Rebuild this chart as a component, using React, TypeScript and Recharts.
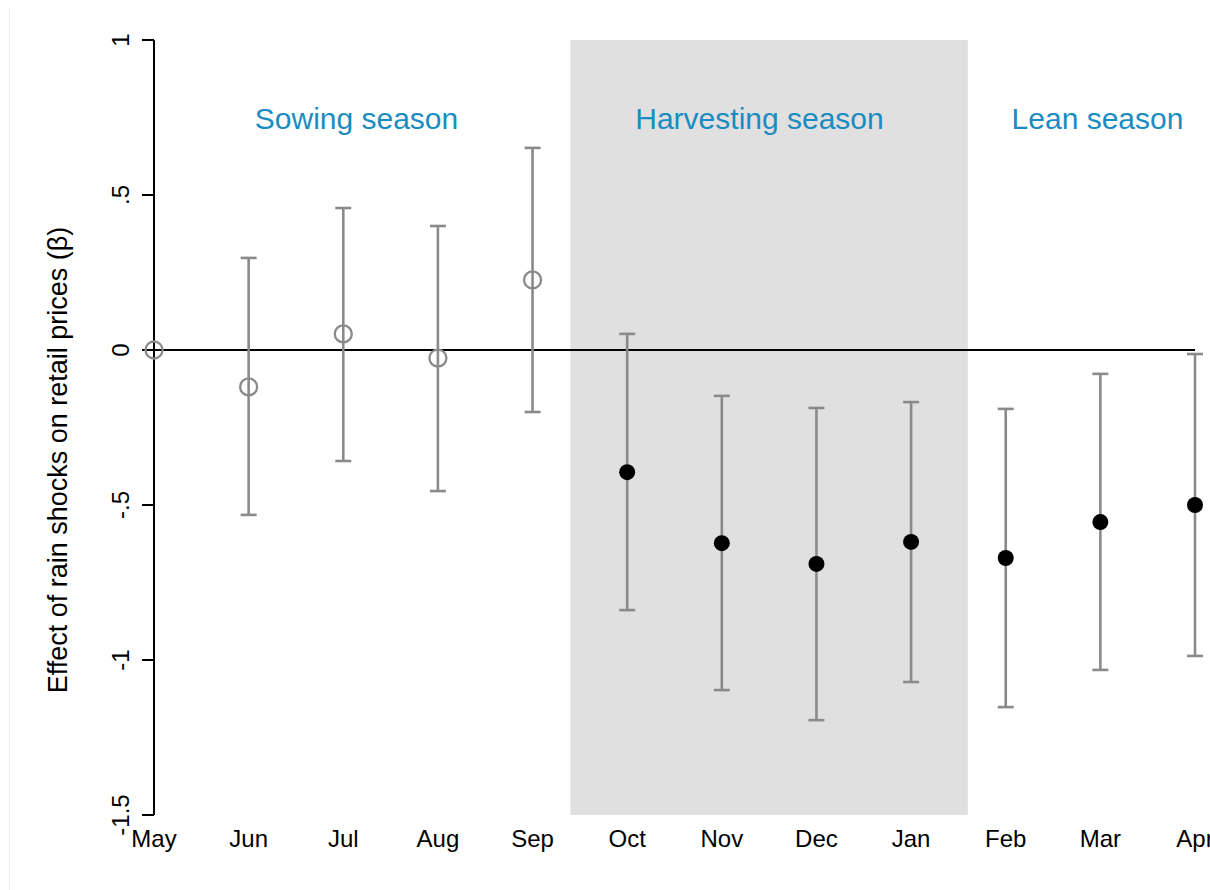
import React from 'react';
import {
  ComposedChart,
  Scatter,
  XAxis,
  YAxis,
  ReferenceArea,
  ReferenceLine,
  ErrorBar,
} from 'recharts';

const months = ['May', 'Jun', 'Jul', 'Aug', 'Sep', 'Oct', 'Nov', 'Dec', 'Jan', 'Feb', 'Mar', 'Apr'];
const estimates = [0, -0.119, 0.052, -0.026, 0.226, -0.394, -0.623, -0.69, -0.619, -0.671, -0.555, -0.5];
const ciLower = [0, -0.532, -0.358, -0.455, -0.2, -0.839, -1.097, -1.194, -1.071, -1.152, -1.032, -0.987];
const ciUpper = [0, 0.297, 0.458, 0.4, 0.652, 0.052, -0.148, -0.187, -0.168, -0.19, -0.077, -0.013];
const yTicks = [-1.5, -1, -0.5, 0, 0.5, 1];
const yTickLabels = ['-1.5', '-1', '-.5', '0', '.5', '1'];
const seasonNames = ['Sowing season', 'Harvesting season', 'Lean season'];
const harvestStart = 4.4;
const harvestEnd = 8.6;

const allPoints = months.map((m, i) => ({
  x: i,
  y: estimates[i],
  err: [estimates[i] - ciLower[i], ciUpper[i] - estimates[i]],
}));
const basePoint = allPoints.slice(0, 1);
const sowingPoints = allPoints.slice(1, 5);
const laterPoints = allPoints.slice(5);

const GRAY = '#8a8a8a';
const BLUE = '#1a8cc2';
const FONT = '"Liberation Sans", Arial, Helvetica, sans-serif';

const HollowDot = (props: any) => (
  <circle cx={props.cx} cy={props.cy} r={8.5} fill="none" stroke={GRAY} strokeWidth={2.3} />
);
const FilledDot = (props: any) => <circle cx={props.cx} cy={props.cy} r={8} fill="#000" />;

const YTick = (props: any) => {
  const { x, y, payload } = props;
  const idx = yTicks.indexOf(payload.value);
  return (
    <text
      transform={`translate(${x - 13},${y}) rotate(-90)`}
      textAnchor="middle"
      fontFamily={FONT}
      fontSize={24}
      fill="#000"
    >
      {idx >= 0 ? yTickLabels[idx] : payload.value}
    </text>
  );
};

const XTick = (props: any) => {
  const { x, y, payload } = props;
  return (
    <text x={x} y={y + 32} textAnchor="middle" fontFamily={FONT} fontSize={24} fill="#000">
      {months[payload.value]}
    </text>
  );
};

export default function App() {
  return (
    <div style={{ position: 'fixed', left: 0, top: 0, width: 1210, height: 890, background: '#fff', overflow: 'hidden' }}>
      <div style={{ position: 'absolute', left: 9, top: 8, width: 1, height: 882, background: '#edf1f4' }} />
      <div style={{ position: 'absolute', left: 0, top: 0 }}>
        <ComposedChart width={1210} height={890} margin={{ top: 40, right: 15, bottom: 45, left: 0 }}>
          <XAxis
            dataKey="x"
            type="number"
            domain={[0, 11]}
            ticks={months.map((_, i) => i)}
            interval={0}
            height={30}
            axisLine={false}
            tickLine={false}
            tickSize={0}
            tickMargin={0}
            tick={<XTick />}
          />
          <YAxis
            dataKey="y"
            type="number"
            domain={[-1.5, 1]}
            ticks={yTicks}
            width={154}
            axisLine={{ stroke: '#000', strokeWidth: 2 }}
            tickLine={{ stroke: '#000', strokeWidth: 2 }}
            tickSize={12}
            tickMargin={0}
            tick={<YTick />}
          />
          <ReferenceArea x1={harvestStart} x2={harvestEnd} y1={-1.5} y2={1} fill="#e0e0e0" fillOpacity={1} stroke="none" />
          <ReferenceLine y={0} stroke="#000" strokeWidth={2} />
          <Scatter data={sowingPoints} shape={<HollowDot />} isAnimationActive={false}>
            <ErrorBar dataKey="err" direction="y" width={8} stroke={GRAY} strokeWidth={2.6} isAnimationActive={false} />
          </Scatter>
          <Scatter data={laterPoints} shape={<FilledDot />} isAnimationActive={false}>
            <ErrorBar dataKey="err" direction="y" width={8} stroke={GRAY} strokeWidth={2.6} isAnimationActive={false} />
          </Scatter>
          <Scatter data={basePoint} shape={<HollowDot />} isAnimationActive={false} />
        </ComposedChart>
      </div>
      <svg
        width={1210}
        height={890}
        style={{ position: 'absolute', left: 0, top: 0, pointerEvents: 'none' }}
      >
        <text x={356.5} y={129} textAnchor="middle" fontFamily={FONT} fontSize={30} fill={BLUE}>
          {seasonNames[0]}
        </text>
        <text x={759.5} y={129} textAnchor="middle" fontFamily={FONT} fontSize={30} fill={BLUE}>
          {seasonNames[1]}
        </text>
        <text x={1097.5} y={129} textAnchor="middle" fontFamily={FONT} fontSize={30} fill={BLUE}>
          {seasonNames[2]}
        </text>
        <text
          transform="translate(67,460) rotate(-90)"
          textAnchor="middle"
          fontFamily={FONT}
          fontSize={27}
          fill="#000"
        >
          Effect of rain shocks on retail prices (β)
        </text>
      </svg>
    </div>
  );
}
